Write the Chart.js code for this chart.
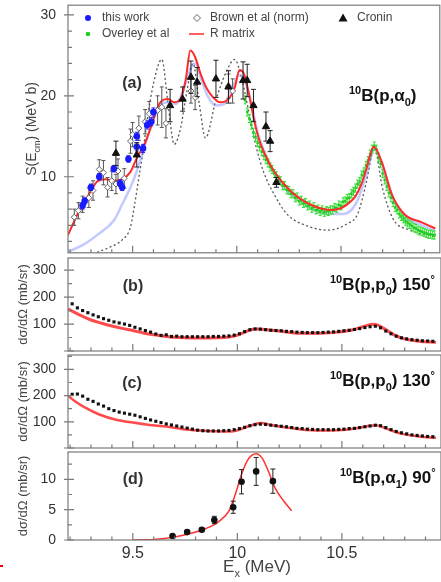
<!DOCTYPE html>
<html>
<head>
<meta charset="utf-8">
<script src="https://cdn.jsdelivr.net/npm/chart.js@4.4.1/dist/chart.umd.min.js"></script>
<style>
  body { margin: 0; background: #fff; width: 441px; height: 582px; overflow: hidden; position: relative; }
  canvas { position: absolute; left: 0; }
</style>
</head>
<body>
<canvas id="pa" width="441" height="258" style="top:0px"></canvas>
<canvas id="pb" width="441" height="101" style="top:254px"></canvas>
<canvas id="pc" width="441" height="101" style="top:351px"></canvas>
<canvas id="pd" width="441" height="134" style="top:448px"></canvas>
<div style="position:absolute;left:0;top:565px;width:3px;height:2px;background:#e00"></div>
<script>
// x axis (excitation energy, MeV)
const xMin = 9.19, xMax = 10.955;
const xTickVals = [9.2, 9.3, 9.4, 9.5, 9.6, 9.7, 9.8, 9.9, 10.0, 10.1, 10.2, 10.3, 10.4, 10.5, 10.6, 10.7, 10.8, 10.9];
const xLabelVals = [9.5, 10, 10.5];

// (a) S-factor, 10B(p,a0)
const thisWorkE = [9.26, 9.27, 9.30, 9.34, 9.41, 9.44, 9.45, 9.48, 9.52, 9.52, 9.55, 9.57, 9.59, 9.60];
const thisWorkS = [6.4, 7.0, 8.7, 10.0, 11.0, 9.2, 8.7, 12.2, 15.0, 13.7, 13.5, 16.4, 16.8, 18.0];
const thisWorkErr = [0.4, 0.4, 0.4, 0.4, 0.4, 0.4, 0.4, 0.4, 0.5, 0.5, 0.5, 0.5, 0.5, 0.5];

const brownE = [9.22, 9.24, 9.26, 9.29, 9.31, 9.34, 9.36, 9.38, 9.40, 9.42, 9.43, 9.46, 9.49, 9.50, 9.53, 9.56, 9.58, 9.62, 9.64, 9.66, 9.78, 9.80, 9.96, 9.98];
const brownS = [5.0, 5.8, 6.6, 7.4, 8.3, 10.9, 10.5, 8.7, 9.5, 9.1, 10.7, 9.8, 14.4, 15.2, 16.0, 16.8, 17.8, 18.2, 18.6, 16.6, 20.6, 19.8, 21.2, 20.6];
const brownErr = [1.0, 1.0, 1.0, 1.2, 1.2, 1.2, 1.5, 1.2, 1.2, 1.2, 1.5, 1.2, 1.5, 1.5, 1.5, 1.5, 1.5, 1.8, 2.5, 1.8, 1.5, 1.5, 1.5, 1.5];

const croninE = [9.42, 9.52, 9.68, 9.74, 9.78, 9.81, 9.90, 9.96, 10.03, 10.05, 10.08, 10.14, 10.16, 10.19];
const croninS = [12.9, 12.7, 18.8, 19.6, 22.3, 21.7, 22.1, 21.1, 21.9, 21.9, 18.8, 16.2, 14.4, 9.3];
const croninErr = [1.5, 1.5, 2.0, 1.5, 2.0, 1.8, 2.3, 2.0, 2.3, 2.0, 2.0, 1.8, 1.3, 0.6];

const overleyE = [10.04, 10.05, 10.06, 10.07, 10.08, 10.09, 10.10, 10.11, 10.12, 10.13, 10.14, 10.15, 10.16, 10.17, 10.18, 10.19,
  10.20, 10.21, 10.22, 10.23, 10.24, 10.25, 10.26, 10.27, 10.28, 10.29, 10.30, 10.31, 10.32, 10.33, 10.34, 10.35, 10.36, 10.37,
  10.38, 10.39, 10.40, 10.41, 10.42, 10.43, 10.44, 10.45, 10.46, 10.47, 10.48, 10.49, 10.50, 10.51, 10.52, 10.53, 10.54, 10.55,
  10.56, 10.57, 10.58, 10.59, 10.60, 10.61, 10.62, 10.63, 10.64, 10.65, 10.66, 10.67, 10.68, 10.69, 10.70, 10.71, 10.72, 10.73,
  10.74, 10.75, 10.76, 10.77, 10.78, 10.79, 10.80, 10.81, 10.82, 10.83, 10.84, 10.85, 10.86, 10.87, 10.88, 10.89, 10.90, 10.91,
  10.92, 10.93, 10.94, 10.95];
const overleyS = [19.5, 18.0, 17.2, 16.4, 15.5, 14.9, 14.2, 13.7, 13.1, 12.6, 12.1, 11.7, 11.2, 10.9, 10.4, 10.1,
  9.6, 9.5, 8.9, 8.9, 8.4, 8.3, 7.9, 7.9, 7.4, 7.5, 7.0, 7.1, 6.7, 6.8, 6.4, 6.5, 6.1, 6.3,
  5.9, 6.0, 5.7, 5.9, 5.6, 5.8, 5.7, 5.9, 5.9, 6.2, 6.1, 6.5, 6.4, 6.9, 7.0, 7.3, 7.4, 7.9,
  8.2, 8.6, 9.1, 9.4, 10.2, 10.6, 11.4, 12.0, 12.8, 13.4, 13.8, 13.4, 12.4, 11.6, 10.4, 9.6, 8.8, 8.0,
  7.4, 6.8, 6.2, 5.9, 5.4, 5.1, 4.8, 4.5, 4.3, 4.1, 3.9, 3.7, 3.6, 3.4, 3.3, 3.2, 3.1, 3.0,
  2.9, 2.9, 2.8, 2.8];
const overleyErr = 0.5;

const rmatE = [9.19, 9.22, 9.25, 9.29, 9.33, 9.37, 9.41, 9.45, 9.49, 9.52, 9.56, 9.59, 9.62, 9.64, 9.67, 9.70, 9.73, 9.755, 9.777,
  9.80, 9.825, 9.85, 9.88, 9.92, 9.96, 9.99, 10.013, 10.036, 10.06, 10.083, 10.107, 10.131, 10.178, 10.255, 10.335, 10.40,
  10.45, 10.50, 10.54, 10.57, 10.60, 10.62, 10.657, 10.696, 10.744, 10.807, 10.885, 10.953];
const rmatS = [2.8, 4.5, 6.1, 7.8, 9.4, 9.7, 9.5, 9.7, 10.6, 12.3, 14.2, 16.3, 18.6, 19.4, 19.6, 19.2, 19.6, 22.0, 25.6,
  24.8, 22.8, 21.2, 20.0, 19.2, 19.6, 21.0, 23.2, 22.6, 20.0, 17.0, 14.6, 13.0, 10.7, 8.3, 6.8, 6.1,
  5.9, 6.1, 6.8, 7.6, 9.2, 10.8, 13.7, 11.8, 7.8, 5.3, 4.4, 3.6];

const calcBlueE = [9.19, 9.27, 9.34, 9.41, 9.45, 9.49, 9.52, 9.55, 9.57, 9.60, 9.63, 9.67, 9.71, 9.74, 9.78, 9.80, 9.83, 9.86, 9.90,
  9.94, 9.98, 10.01, 10.04, 10.07, 10.10, 10.15, 10.20, 10.26, 10.34, 10.44, 10.51, 10.57, 10.62, 10.66, 10.70, 10.75, 10.81, 10.89, 10.95];
const calcBlueS = [0.7, 1.7, 3.0, 4.6, 6.6, 8.7, 10.7, 13.1, 14.8, 17.0, 18.8, 19.2, 19.0, 20.5, 23.5, 24.0, 22.0, 20.0, 18.8,
  19.0, 21.0, 22.5, 21.8, 19.0, 15.5, 12.0, 9.5, 7.8, 6.3, 5.4, 5.4, 6.6, 10.0, 13.4, 11.3, 7.4, 5.1, 4.0, 3.4];

const calcDotE = [9.33, 9.39, 9.45, 9.49, 9.51, 9.53, 9.55, 9.57, 9.60, 9.64, 9.67, 9.70, 9.73, 9.76, 9.79, 9.82, 9.85, 9.90, 9.95,
  9.99, 10.02, 10.05, 10.09, 10.13, 10.18, 10.24, 10.33, 10.44, 10.53, 10.58, 10.62, 10.66, 10.70, 10.75, 10.83, 10.95];
const calcDotS = [0.65, 1.3, 2.2, 3.8, 6.6, 9.9, 13.1, 17.0, 21.5, 24.5, 19.0, 14.0, 16.0, 20.5, 24.0, 19.0, 14.8, 19.5, 23.0,
  24.5, 22.5, 19.0, 14.0, 10.5, 7.8, 5.4, 4.0, 3.4, 4.2, 5.4, 9.1, 13.5, 8.5, 4.8, 3.4, 2.6];

// (b) and (c) elastic scattering, same energy grid
const ppE = [9.210, 9.235, 9.260, 9.285, 9.310, 9.335, 9.360, 9.385, 9.410, 9.435, 9.460, 9.485, 9.510, 9.535, 9.560, 9.585,
  9.610, 9.635, 9.660, 9.685, 9.710, 9.735, 9.760, 9.785, 9.810, 9.835, 9.860, 9.885, 9.910, 9.935, 9.960, 9.985,
  10.010, 10.035, 10.060, 10.085, 10.110, 10.135, 10.160, 10.185, 10.210, 10.235, 10.260, 10.285, 10.310, 10.335, 10.360, 10.385,
  10.410, 10.435, 10.460, 10.485, 10.510, 10.535, 10.560, 10.585, 10.610, 10.635, 10.660, 10.685, 10.710, 10.735, 10.760, 10.785,
  10.810, 10.835, 10.860, 10.885, 10.910, 10.935];
const p150 = [175, 160, 150, 142, 134, 127, 120, 114, 108, 104, 100, 95, 88, 82, 76, 70,
  63, 58, 60, 54, 55, 53, 53, 53, 53, 53, 53, 54, 54, 55, 56, 59,
  64, 72, 79, 82, 81, 79, 77, 76, 75, 73, 72, 70, 69, 68, 68, 68,
  69, 70, 71, 73, 75, 77, 80, 83, 87, 90, 92, 86, 74, 64, 55, 49,
  45, 42, 40, 38, 37, 36];
const fit150E = [9.19, 9.25, 9.30, 9.35, 9.40, 9.45, 9.50, 9.55, 9.60, 9.65, 9.70, 9.75, 9.80, 9.85, 9.90, 9.95, 9.99, 10.03,
  10.07, 10.10, 10.15, 10.20, 10.30, 10.40, 10.48, 10.55, 10.60, 10.645, 10.67, 10.70, 10.75, 10.80, 10.87, 10.95];
const fit150 = [156, 132, 115, 103, 93, 84, 76, 67, 60, 55, 51, 49, 48, 48, 49, 51, 56, 68,
  80, 82, 78, 74, 66, 66, 70, 78, 90, 99, 97, 84, 60, 45, 36, 32];

const p130 = [205, 206, 198, 186, 178, 168, 160, 150, 143, 137, 133, 129, 125, 119, 113, 107,
  102, 97, 92, 88, 84, 80, 76, 72, 68, 66, 65, 65, 65, 66, 67, 70,
  74, 79, 85, 89, 91, 90, 87, 85, 83, 81, 78, 75, 74, 72, 71, 70,
  70, 70, 70, 71, 72, 74, 75, 78, 81, 84, 87, 85, 78, 70, 63, 58,
  54, 50, 48, 46, 44, 43];
const fit130E = [9.19, 9.22, 9.27, 9.34, 9.42, 9.50, 9.58, 9.66, 9.74, 9.82, 9.90, 9.97, 10.00, 10.04, 10.08, 10.115, 10.15,
  10.18, 10.25, 10.33, 10.45, 10.52, 10.57, 10.62, 10.665, 10.70, 10.75, 10.80, 10.87, 10.95];
const fit130 = [200, 180, 155, 128, 108, 97, 88, 82, 72, 67, 64, 63, 68, 79, 90, 95, 90,
  85, 77, 69, 67, 70, 75, 83, 87, 78, 63, 52, 44, 39];

// (d) 10B(p,a1) 90 deg
const a1E = [9.69, 9.76, 9.83, 9.89, 9.98, 10.02, 10.09, 10.17];
const a1Y = [0.65, 1.3, 1.7, 3.3, 5.4, 9.6, 11.3, 9.7];
const a1Err = [0.15, 0.2, 0.25, 0.6, 1.0, 2.0, 2.3, 2.0];
const fitA1E = [9.50, 9.60, 9.70, 9.78, 9.85, 9.91, 9.96, 9.99, 10.02, 10.05, 10.09, 10.12, 10.15, 10.18, 10.22, 10.26];
const fitA1 = [0, 0.1, 0.5, 1.1, 1.9, 3.0, 4.8, 7.5, 10.8, 13.2, 14.2, 13.4, 11.2, 8.6, 6.5, 4.8];

const FONT = '"Liberation Sans", Arial, Helvetica, sans-serif';

const xy = (xs, ys) => xs.map((x, i) => ({ x: x, y: ys[i] }));

//texts of each panel, in page coordinates
const panelText = {
  pa: {
    yTitle: [{ t: "S(E" }, { t: "cm", sub: true }, { t: ") (MeV b)" }], yTitleX: 36, yTitleSize: 14,
    tag: "(a)", tagX: 132, tagY: 88,
    reaction: [{ t: "10", sup: true }, { t: "B(p,\u03b1" }, { t: "0", sub: true }, { t: ")" }], reactionX: 349, reactionY: 101,
    yStep: 2, yMajor: 10, legend: true,
  },
  pb: {
    yTitle: [{ t: "d\u03c3/d\u03a9 (mb/sr)" }], yTitleX: 27, yTitleSize: 13,
    tag: "(b)", tagX: 133, tagY: 291,
    reaction: [{ t: "10", sup: true }, { t: "B(p,p" }, { t: "0", sub: true }, { t: ") 150" }, { t: "\u00b0", sup: true }], reactionX: 330, reactionY: 290,
    yStep: 50, yMajor: 100,
  },
  pc: {
    yTitle: [{ t: "d\u03c3/d\u03a9 (mb/sr)" }], yTitleX: 27, yTitleSize: 13,
    tag: "(c)", tagX: 132, tagY: 388,
    reaction: [{ t: "10", sup: true }, { t: "B(p,p" }, { t: "0", sub: true }, { t: ") 130" }, { t: "\u00b0", sup: true }], reactionX: 330, reactionY: 386,
    yStep: 50, yMajor: 100,
  },
  pd: {
    yTitle: [{ t: "d\u03c3/d\u03a9 (mb/sr)" }], yTitleX: 27, yTitleSize: 13,
    tag: "(d)", tagX: 133, tagY: 484,
    reaction: [{ t: "10", sup: true }, { t: "B(p,\u03b1" }, { t: "1", sub: true }, { t: ") 90" }, { t: "\u00b0", sup: true }], reactionX: 340, reactionY: 483,
    yStep: 2.5, yMajor: 5,
    xTitle: [{ t: "E" }, { t: "x", sub: true }, { t: " (MeV)" }], xTitleX: 257, xTitleY: 572,
  },
};

function drawRich(ctx, segs, x, y, size, weight, color, align, rotate) {
  ctx.save();
  ctx.translate(x, y);
  if (rotate) ctx.rotate(-Math.PI / 2);
  ctx.fillStyle = color;
  ctx.textBaseline = "alphabetic";
  ctx.textAlign = "left";
  const font = (s) => weight + " " + (s.sub || s.sup ? Math.round(size * 0.65) : size) + "px " + FONT;
  let w = 0;
  segs.forEach((s) => {
    ctx.font = font(s);
    w += ctx.measureText(s.t).width;
  });
  let cx = align == "center" ? -w / 2 : 0;
  segs.forEach((s) => {
    ctx.font = font(s);
    ctx.fillText(s.t, cx, s.sub ? size * 0.3 : s.sup ? -size * 0.42 : 0);
    cx += ctx.measureText(s.t).width;
  });
  ctx.restore();
}

//error bars, drawn just before their own dataset
const errorBars = {
  id: "errorBars",
  beforeDatasetDraw(chart, args) {
    const ds = chart.data.datasets[args.index];
    if (!ds.errors) return;
    const { ctx, chartArea: a } = chart;
    const x = chart.scales.x, y = chart.scales.y;
    ctx.save();
    ctx.beginPath();
    ctx.rect(a.left, a.top, a.right - a.left, a.bottom - a.top);
    ctx.clip();
    ctx.strokeStyle = ds.errorColor || "#222";
    ctx.lineWidth = 1;
    ctx.beginPath();
    ds.data.forEach((p, i) => {
      const e = Array.isArray(ds.errors) ? ds.errors[i] : ds.errors;
      const px = x.getPixelForValue(p.x);
      const y1 = y.getPixelForValue(p.y - e);
      const y2 = y.getPixelForValue(p.y + e);
      const c = ds.capWidth || 2;
      ctx.moveTo(px, y1); ctx.lineTo(px, y2);
      ctx.moveTo(px - c, y1); ctx.lineTo(px + c, y1);
      ctx.moveTo(px - c, y2); ctx.lineTo(px + c, y2);
    });
    ctx.stroke();
    ctx.restore();
  },
};

function drawLegend(ctx, off) {
  const txt = (t, x, y) => {
    ctx.fillStyle = "#444";
    ctx.font = "12px " + FONT;
    ctx.textBaseline = "middle";
    ctx.fillText(t, x, y - off);
  };
  ctx.fillStyle = "#1a1aff";
  ctx.beginPath(); ctx.arc(88, 18 - off, 3, 0, Math.PI * 2); ctx.fill();
  txt("this work", 102, 18);
  ctx.strokeStyle = "#666"; ctx.lineWidth = 1;
  ctx.beginPath();
  ctx.moveTo(197, 14.5 - off); ctx.lineTo(200.5, 18 - off); ctx.lineTo(197, 21.5 - off); ctx.lineTo(193.5, 18 - off);
  ctx.closePath(); ctx.stroke();
  txt("Brown et al (norm)", 210, 18);
  ctx.fillStyle = "#111";
  ctx.beginPath();
  ctx.moveTo(343, 13.5 - off); ctx.lineTo(347.5, 21.5 - off); ctx.lineTo(338.5, 21.5 - off);
  ctx.closePath(); ctx.fill();
  txt("Cronin", 357, 18);
  ctx.fillStyle = "#22cc22";
  ctx.beginPath(); ctx.arc(88, 34 - off, 2.3, 0, Math.PI * 2); ctx.fill();
  txt("Overley et al", 102, 34);
  ctx.strokeStyle = "#ff2a2a"; ctx.lineWidth = 1.5;
  ctx.beginPath(); ctx.moveTo(189, 34 - off); ctx.lineTo(204, 34 - off); ctx.stroke();
  txt("R matrix", 210, 34);
}

//box, inward ticks and all the texts
const frame = {
  id: "frame",
  afterDraw(chart) {
    const o = panelText[chart.canvas.id];
    const { ctx, chartArea: a } = chart;
    const x = chart.scales.x, y = chart.scales.y;
    const off = chart.canvas.offsetTop;
    ctx.save();
    ctx.strokeStyle = "#7a7a7a";
    ctx.lineWidth = 1.2;
    ctx.strokeRect(a.left, a.top, a.right - a.left + 4, a.bottom - a.top);
    ctx.beginPath();
    xTickVals.forEach((v) => {
      const px = x.getPixelForValue(v);
      const len = xLabelVals.some((m) => Math.abs(m - v) < 1e-6) ? 7 : 3.5;
      ctx.moveTo(px, a.bottom); ctx.lineTo(px, a.bottom - len);
    });
    for (let k = Math.ceil(y.min / o.yStep); k * o.yStep <= y.max; k++) {
      const v = k * o.yStep;
      const py = y.getPixelForValue(v);
      const major = Math.abs(v / o.yMajor - Math.round(v / o.yMajor)) < 1e-6;
      ctx.moveTo(major ? a.left - 4 : a.left, py);
      ctx.lineTo(a.left + (major ? 6 : 4), py);
    }
    ctx.stroke();

    drawRich(ctx, o.yTitle, o.yTitleX, (a.top + a.bottom) / 2, o.yTitleSize, "normal", "#444", "center", true);
    drawRich(ctx, [{ t: o.tag }], o.tagX, o.tagY - off, 16, "bold", "#333", "center", false);
    drawRich(ctx, o.reaction, o.reactionX, o.reactionY - off, 17, "bold", "#111", "left", false);
    if (o.xTitle) drawRich(ctx, o.xTitle, o.xTitleX, o.xTitleY - off, 17, "normal", "#444", "center", false);
    if (o.legend) drawLegend(ctx, off);
    ctx.restore();
  },
};

Chart.register(errorBars, frame);

//labels may stick out of the box, the layout should not make room for them
function noPad(s) {
  s.paddingTop = 0;
  s.paddingBottom = 0;
  s.paddingLeft = 0;
  s.paddingRight = 0;
}

function makeChart(id, datasets, cfg) {
  return new Chart(document.getElementById(id), {
    type: "scatter",
    data: { datasets: datasets },
    options: {
      responsive: false,
      animation: false,
      devicePixelRatio: 1,
      layout: { padding: { top: cfg.padTop, bottom: cfg.padBottom, left: 0, right: 0 } },
      plugins: { legend: { display: false }, tooltip: { enabled: false } },
      scales: {
        x: {
          type: "linear",
          min: xMin,
          max: xMax,
          display: cfg.showX,
          grid: { display: false },
          border: { display: false },
          afterFit: (s) => { s.height = cfg.showX ? 42 : 0; noPad(s); },
          afterBuildTicks: (s) => { s.ticks = xLabelVals.map((v) => ({ value: v })); },
          ticks: { font: { size: 16, family: FONT }, color: "#333", padding: -4, maxRotation: 0, callback: (v) => String(v) },
        },
        y: {
          type: "linear",
          min: cfg.yMin,
          max: cfg.yMax,
          grid: { display: false },
          border: { display: false },
          afterFit: (s) => { s.width = 68; noPad(s); },
          afterBuildTicks: (s) => { s.ticks = cfg.yLabels.map((v) => ({ value: v })); },
          ticks: { font: { size: 14, family: FONT }, color: "#333", padding: 4, callback: (v) => String(v) },
        },
      },
    },
  });
}

const curve = (data, color, width, extra) =>
  Object.assign({ data: data, showLine: true, pointRadius: 0, borderColor: color, borderWidth: width, cubicInterpolationMode: "monotone" }, extra || {});

// (a)
makeChart("pa", [
  { label: "Cronin", data: xy(croninE, croninS), errors: croninErr, capWidth: 2.5, pointStyle: "triangle", pointRadius: 4.2, backgroundColor: "#111", borderColor: "#111", borderWidth: 1 },
  { label: "this work", data: xy(thisWorkE, thisWorkS), errors: thisWorkErr, errorColor: "#1a1aff", pointRadius: 3.3, backgroundColor: "#1a1aff", borderColor: "#1a1aff", borderWidth: 0 },
  { label: "Brown et al (norm)", data: xy(brownE, brownS), errors: brownErr, errorColor: "#555", pointStyle: "rectRot", pointRadius: 3, backgroundColor: "#fff", borderColor: "#666", borderWidth: 1 },
  curve(xy(rmatE, rmatS), "#ff2a2a", 2),
  { label: "Overley et al", data: xy(overleyE, overleyS), errors: overleyErr, errorColor: "#33dd33", capWidth: 1.5, pointStyle: "rect", pointRadius: 1.8, backgroundColor: "#22cc22", borderColor: "#22cc22", borderWidth: 0 },
  curve(xy(calcBlueE, calcBlueS), "rgba(120,135,255,0.45)", 2.5),
  curve(xy(calcDotE, calcDotS), "#555", 1.3, { borderDash: [2, 2.5] }),
], { padTop: 5, padBottom: 2, showX: false, yMin: 0.6, yMax: 31.2, yLabels: [10, 20, 30] });

// (b)
makeChart("pb", [
  { data: xy(ppE, p150), pointStyle: "rect", pointRadius: 2.2, backgroundColor: "#111", borderColor: "#111", borderWidth: 0 },
  curve(xy(fit150E, fit150), "rgba(255,30,30,0.8)", 3),
], { padTop: 2, padBottom: 2, showX: false, yMin: 0, yMax: 345, yLabels: [100, 200, 300] });

// (c)
makeChart("pc", [
  { data: xy(ppE, p130), pointStyle: "rect", pointRadius: 2.2, backgroundColor: "#111", borderColor: "#111", borderWidth: 0 },
  curve(xy(fit130E, fit130), "rgba(255,30,30,0.8)", 2.5),
], { padTop: 2, padBottom: 2, showX: false, yMin: 0, yMax: 355, yLabels: [100, 200, 300] });

// (d)
makeChart("pd", [
  { data: xy(a1E, a1Y), errors: a1Err, capWidth: 2.5, pointRadius: 3.3, backgroundColor: "#111", borderColor: "#111", borderWidth: 0 },
  curve(xy(fitA1E, fitA1), "#ff3030", 1.5),
], { padTop: 2, padBottom: 0, showX: true, yMin: 0, yMax: 14.5, yLabels: [0, 5, 10] });
</script>
</body>
</html>
